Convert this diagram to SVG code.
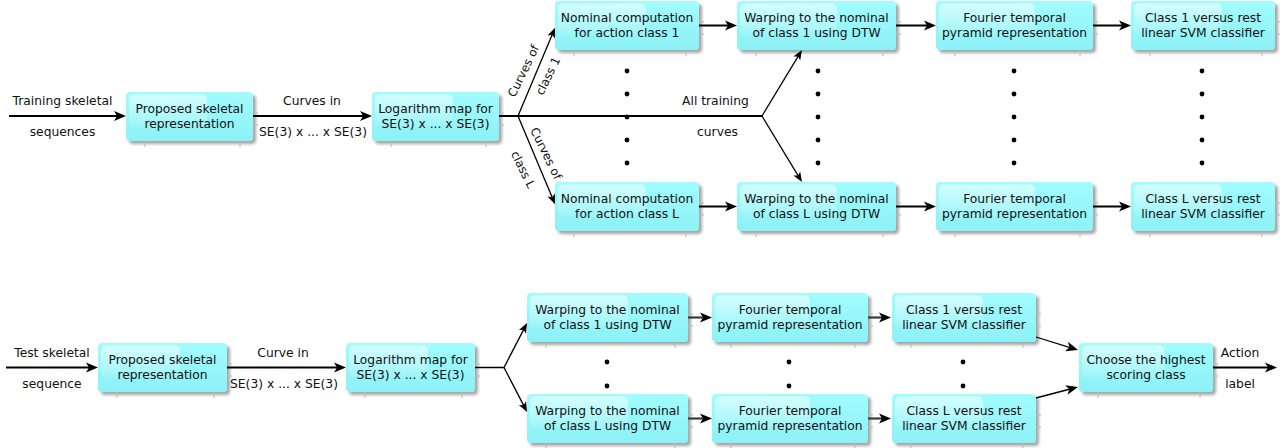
<svg xmlns="http://www.w3.org/2000/svg" width="1285" height="448" viewBox="0 0 1285 448">
<style>
text{font-family:"DejaVu Sans","Liberation Sans",sans-serif;font-size:12.3px;fill:#111;text-anchor:middle}
.bx{fill:url(#bg);filter:url(#sh)}
.hl{fill:url(#hg)}
.tk{stroke:#b8b8b8;stroke-width:1;fill:none}
.c{fill:none;stroke:#000;stroke-width:1.8}
.d{fill:none;stroke:#000;stroke-width:1.3}
.g{fill:none;stroke:#3a3a3a;stroke-width:2.2}
.dot{fill:#000}
.r{font-size:11.8px}
</style>
<defs>
<linearGradient id="bg" x1="0" y1="0" x2="0" y2="1">
<stop offset="0" stop-color="#A2FCFF"/>
<stop offset="1" stop-color="#8CF1F5"/>
</linearGradient>
<linearGradient id="hg" x1="0" y1="0" x2="0" y2="1">
<stop offset="0" stop-color="#fff" stop-opacity="0.55"/>
<stop offset="1" stop-color="#fff" stop-opacity="0.08"/>
</linearGradient>
<filter id="sh" x="-10%" y="-20%" width="125%" height="150%">
<feGaussianBlur in="SourceAlpha" stdDeviation="1.6"/>
<feOffset dx="2.5" dy="3" result="o"/>
<feFlood flood-color="#000" flood-opacity="0.35"/>
<feComposite in2="o" operator="in"/>
<feMerge><feMergeNode/><feMergeNode in="SourceGraphic"/></feMerge>
</filter>
<marker id="ah" markerUnits="userSpaceOnUse" markerWidth="14" markerHeight="12" refX="8" refY="5" orient="auto" overflow="visible"><path d="M12,5 L0,0 L3,5 L0,10 Z" fill="#000"/></marker>
<marker id="as" markerUnits="userSpaceOnUse" markerWidth="12" markerHeight="10" refX="6" refY="4" orient="auto" overflow="visible"><path d="M10,4 L0,0 L2.5,4 L0,8 Z" fill="#000"/></marker>
</defs>

<!-- ===== Training pipeline ===== -->
<g id="n_prop1"><rect class="bx" x="126" y="92" width="127" height="49" rx="4"/><rect class="hl" x="129" y="94.5" width="78" height="32" rx="5"/><path class="tk" d="M145,141v6M240,141v6M253,113h5M253,125h5"/><text x="189.5" y="112.5">Proposed skeletal</text><text x="189.5" y="127.5">representation</text></g>
<g id="n_log1"><rect class="bx" x="372" y="92" width="127" height="49" rx="4"/><rect class="hl" x="375" y="94.5" width="78" height="32" rx="5"/><path class="tk" d="M391,141v6M486,141v6M499,113h5M499,125h5"/><text x="435.5" y="112.5">Logarithm map for</text><text x="435.5" y="127.5">SE(3) x ... x SE(3)</text></g>
<g id="n_nom1"><rect class="bx" x="555" y="1" width="144" height="49" rx="4"/><rect class="hl" x="558" y="3.5" width="88" height="32" rx="5"/><path class="tk" d="M574,50v6M686,50v6M699,22h5M699,34h5"/><text x="627" y="21.5">Nominal computation</text><text x="627" y="36.5">for action class 1</text></g>
<g id="n_nomL"><rect class="bx" x="555" y="182" width="144" height="49" rx="4"/><rect class="hl" x="558" y="184.5" width="88" height="32" rx="5"/><path class="tk" d="M574,231v6M686,231v6M699,203h5M699,215h5"/><text x="627" y="202.5">Nominal computation</text><text x="627" y="217.5">for action class L</text></g>
<g id="n_warp1"><rect class="bx" x="737" y="1" width="159" height="49" rx="4"/><rect class="hl" x="740" y="3.5" width="97" height="32" rx="5"/><path class="tk" d="M756,50v6M883,50v6M896,22h5M896,34h5"/><text x="816.5" y="21.5">Warping to the nominal</text><text x="816.5" y="36.5">of class 1 using DTW</text></g>
<g id="n_warpL"><rect class="bx" x="737" y="182" width="159" height="49" rx="4"/><rect class="hl" x="740" y="184.5" width="97" height="32" rx="5"/><path class="tk" d="M756,231v6M883,231v6M896,203h5M896,215h5"/><text x="816.5" y="202.5">Warping to the nominal</text><text x="816.5" y="217.5">of class L using DTW</text></g>
<g id="n_four1"><rect class="bx" x="936" y="1" width="157" height="49" rx="4"/><rect class="hl" x="939" y="3.5" width="96" height="32" rx="5"/><path class="tk" d="M955,50v6M1080,50v6M1093,22h5M1093,34h5"/><text x="1014.5" y="21.5">Fourier temporal</text><text x="1014.5" y="36.5">pyramid representation</text></g>
<g id="n_fourL"><rect class="bx" x="936" y="182" width="157" height="49" rx="4"/><rect class="hl" x="939" y="184.5" width="96" height="32" rx="5"/><path class="tk" d="M955,231v6M1080,231v6M1093,203h5M1093,215h5"/><text x="1014.5" y="202.5">Fourier temporal</text><text x="1014.5" y="217.5">pyramid representation</text></g>
<g id="n_cls1"><rect class="bx" x="1131" y="1" width="144" height="49" rx="4"/><rect class="hl" x="1134" y="3.5" width="88" height="32" rx="5"/><path class="tk" d="M1150,50v6M1262,50v6M1275,22h5M1275,34h5"/><text x="1203" y="21.5">Class 1 versus rest</text><text x="1203" y="36.5">linear SVM classifier</text></g>
<g id="n_clsL"><rect class="bx" x="1131" y="182" width="144" height="49" rx="4"/><rect class="hl" x="1134" y="184.5" width="88" height="32" rx="5"/><path class="tk" d="M1150,231v6M1262,231v6M1275,203h5M1275,215h5"/><text x="1203" y="202.5">Class L versus rest</text><text x="1203" y="217.5">linear SVM classifier</text></g>

<!-- ===== Test pipeline ===== -->
<g id="t_prop"><rect class="bx" x="98" y="343" width="129" height="49" rx="4"/><rect class="hl" x="101" y="345.5" width="79" height="32" rx="5"/><path class="tk" d="M117,392v6M214,392v6M227,364h5M227,376h5"/><text x="162.5" y="363.5">Proposed skeletal</text><text x="162.5" y="378.5">representation</text></g>
<g id="t_log"><rect class="bx" x="346" y="343" width="129" height="49" rx="4"/><rect class="hl" x="349" y="345.5" width="79" height="32" rx="5"/><path class="tk" d="M365,392v6M462,392v6M475,364h5M475,376h5"/><text x="410.5" y="363.5">Logarithm map for</text><text x="410.5" y="378.5">SE(3) x ... x SE(3)</text></g>
<g id="t_warp1"><rect class="bx" x="527" y="293" width="161" height="49" rx="4"/><rect class="hl" x="530" y="295.5" width="98" height="32" rx="5"/><path class="tk" d="M546,342v6M675,342v6M688,314h5M688,326h5"/><text x="607.5" y="313.5">Warping to the nominal</text><text x="607.5" y="328.5">of class 1 using DTW</text></g>
<g id="t_warpL"><rect class="bx" x="527" y="394" width="161" height="49" rx="4"/><rect class="hl" x="530" y="396.5" width="98" height="32" rx="5"/><path class="tk" d="M546,443v5M675,443v5M688,415h5M688,427h5"/><text x="607.5" y="414.5">Warping to the nominal</text><text x="607.5" y="429.5">of class L using DTW</text></g>
<g id="t_four1"><rect class="bx" x="712" y="293" width="156" height="49" rx="4"/><rect class="hl" x="715" y="295.5" width="95" height="32" rx="5"/><path class="tk" d="M731,342v6M855,342v6M868,314h5M868,326h5"/><text x="790" y="313.5">Fourier temporal</text><text x="790" y="328.5">pyramid representation</text></g>
<g id="t_fourL"><rect class="bx" x="712" y="394" width="156" height="49" rx="4"/><rect class="hl" x="715" y="396.5" width="95" height="32" rx="5"/><path class="tk" d="M731,443v5M855,443v5M868,415h5M868,427h5"/><text x="790" y="414.5">Fourier temporal</text><text x="790" y="429.5">pyramid representation</text></g>
<g id="t_cls1"><rect class="bx" x="892" y="293" width="144" height="49" rx="4"/><rect class="hl" x="895" y="295.5" width="88" height="32" rx="5"/><path class="tk" d="M911,342v6M1023,342v6M1036,314h5M1036,326h5"/><text x="964" y="313.5">Class 1 versus rest</text><text x="964" y="328.5">linear SVM classifier</text></g>
<g id="t_clsL"><rect class="bx" x="892" y="394" width="144" height="49" rx="4"/><rect class="hl" x="895" y="396.5" width="88" height="32" rx="5"/><path class="tk" d="M911,443v5M1023,443v5M1036,415h5M1036,427h5"/><text x="964" y="414.5">Class L versus rest</text><text x="964" y="429.5">linear SVM classifier</text></g>
<g id="t_choose"><rect class="bx" x="1079" y="343" width="134" height="49" rx="4"/><rect class="hl" x="1082" y="345.5" width="82" height="32" rx="5"/><path class="tk" d="M1098,392v6M1200,392v6M1213,364h5M1213,376h5"/><text x="1146" y="363.5">Choose the highest</text><text x="1146" y="378.5">scoring class</text></g>

<g id="connectors">
<!-- training -->
<path class="c" d="M9,116H122" marker-end="url(#ah)"/>
<path class="c" d="M253,116H368" marker-end="url(#ah)"/>
<path class="c" d="M499,116H762"/>
<path class="d" d="M518,116L553.5,31.5" marker-end="url(#as)"/>
<path class="d" d="M518,116L553.5,200.5" marker-end="url(#as)"/>
<path class="d" d="M762,116L799.9,53.4" marker-end="url(#as)"/>
<path class="d" d="M762,116L799.9,178.6" marker-end="url(#as)"/>
<path class="c" d="M699,25.5H733" marker-end="url(#ah)"/>
<path class="c" d="M896,25.5H932" marker-end="url(#ah)"/>
<path class="c" d="M1093,25.5H1127" marker-end="url(#ah)"/>
<path class="c" d="M699,206.5H733" marker-end="url(#ah)"/>
<path class="c" d="M896,206.5H932" marker-end="url(#ah)"/>
<path class="c" d="M1093,206.5H1127" marker-end="url(#ah)"/>
<!-- test -->
<path class="c" d="M6,367.5H94" marker-end="url(#ah)"/>
<path class="c" d="M227,367.5H342" marker-end="url(#ah)"/>
<path class="d" d="M475,367.5H504L525.2,326.6" marker-end="url(#as)"/>
<path class="d" d="M504,367.5L525.2,408.4" marker-end="url(#as)"/>
<path class="g" d="M688,317.5H708" marker-end="url(#ah)"/>
<path class="g" d="M868,317.5H887" marker-end="url(#ah)"/>
<path class="g" d="M688,418.5H708" marker-end="url(#ah)"/>
<path class="g" d="M868,418.5H887" marker-end="url(#ah)"/>
<path class="d" d="M1036,337L1074.2,348.8" marker-end="url(#ah)"/>
<path class="d" d="M1036,398L1074.1,388" marker-end="url(#ah)"/>
<path class="c" d="M1213,367.5H1273" marker-end="url(#ah)"/>
</g>

<g id="labels">
<text x="62.5" y="105">Training skeletal</text>
<text x="62.5" y="136">sequences</text>
<text x="312" y="105">Curves in</text>
<text x="313" y="136">SE(3) x ... x SE(3)</text>
<text x="715.5" y="105">All training</text>
<text x="717.5" y="136">curves</text>
<text class="r" transform="translate(523.5,71) rotate(-64)" y="4">Curves of</text>
<text class="r" transform="translate(548,76) rotate(-64)" y="4">class 1</text>
<text class="r" transform="translate(546,153.5) rotate(64)" y="4">Curves of</text>
<text class="r" transform="translate(523,169.5) rotate(64)" y="4">class L</text>
<text x="52" y="356.5">Test skeletal</text>
<text x="52" y="387.5">sequence</text>
<text x="283" y="356.5">Curve in</text>
<text x="284" y="387.5">SE(3) x ... x SE(3)</text>
<text x="1240" y="356.5">Action</text>
<text x="1240" y="387.5">label</text>
</g>

<g id="dots" class="dot">
<circle cx="627" cy="71" r="2.4"/><circle cx="627" cy="94" r="2.4"/><circle cx="627" cy="117" r="2.4"/><circle cx="627" cy="140" r="2.4"/><circle cx="627" cy="163" r="2.4"/>
<circle cx="818" cy="71" r="2.4"/><circle cx="818" cy="94" r="2.4"/><circle cx="818" cy="117" r="2.4"/><circle cx="818" cy="140" r="2.4"/><circle cx="818" cy="163" r="2.4"/>
<circle cx="1014" cy="71" r="2.4"/><circle cx="1014" cy="94" r="2.4"/><circle cx="1014" cy="117" r="2.4"/><circle cx="1014" cy="140" r="2.4"/><circle cx="1014" cy="163" r="2.4"/>
<circle cx="1202" cy="71" r="2.4"/><circle cx="1202" cy="94" r="2.4"/><circle cx="1202" cy="117" r="2.4"/><circle cx="1202" cy="140" r="2.4"/><circle cx="1202" cy="163" r="2.4"/>
<circle cx="607" cy="362" r="2.4"/><circle cx="607" cy="386" r="2.4"/>
<circle cx="789" cy="362" r="2.4"/><circle cx="789" cy="386" r="2.4"/>
<circle cx="963" cy="362" r="2.4"/><circle cx="963" cy="386" r="2.4"/>
</g>
</svg>
